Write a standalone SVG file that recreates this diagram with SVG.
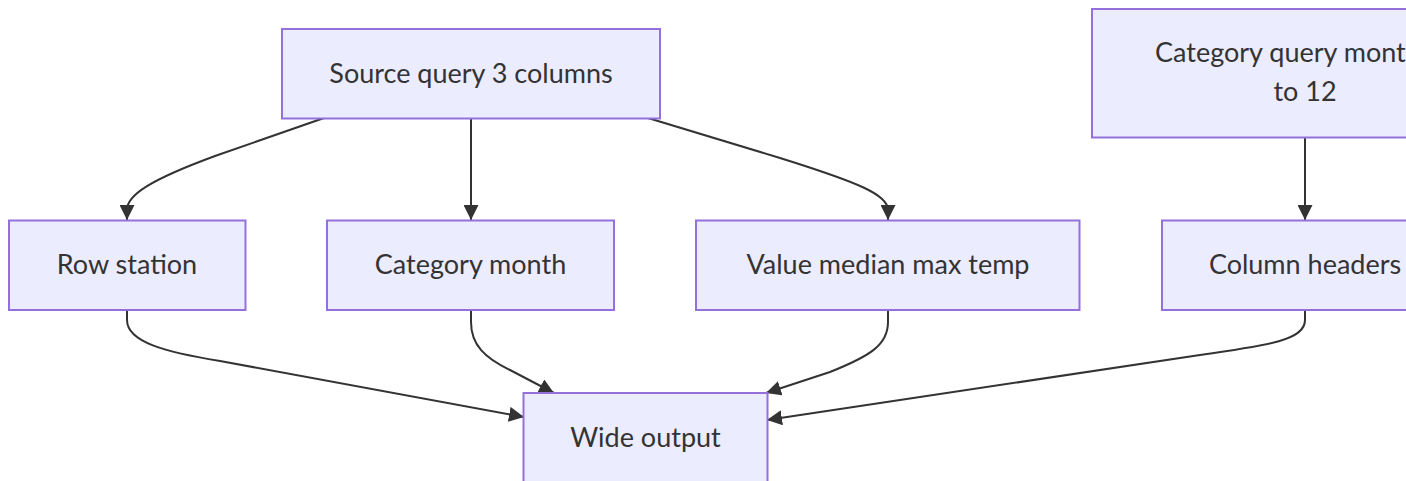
<svg xmlns="http://www.w3.org/2000/svg" width="1406" height="481" viewBox="0 0 1406 481">
  <style>
    .node rect { fill: #ECECFF; stroke: #9370DB; stroke-width: 2; }
    .node text { font-family: Lato, "Open Sans", "DejaVu Sans", sans-serif; font-size: 27px; fill: #333333; text-anchor: middle; }
    .edges path { fill: none; stroke: #333333; stroke-width: 2; }
  </style>
  <defs>
    <marker id="arrow" viewBox="0 0 10 10" refX="10" refY="5" markerUnits="userSpaceOnUse" markerWidth="15" markerHeight="15" orient="auto">
      <path d="M0,0 L10,5 L0,10 z" fill="#333333"/>
    </marker>
  </defs>
  <rect width="1406" height="481" fill="#ffffff"/>

  <g class="edges">
    <path d="M324,118 L215,156 C150,180 127,195 127,210 L127,220" marker-end="url(#arrow)"/>
    <path d="M471,118 L471,220" marker-end="url(#arrow)"/>
    <path d="M648,118 L780,158 C860,183 888,195 888,210 L888,220" marker-end="url(#arrow)"/>
    <path d="M1305,138 L1305,220" marker-end="url(#arrow)"/>
    <path d="M127,310 L127,320 C127,342 165,352 220,361 L524,417" marker-end="url(#arrow)"/>
    <path d="M471,310 L471,322 C471,345 485,358 510,370 L554,393" marker-end="url(#arrow)"/>
    <path d="M888,310 L888,322 C888,345 870,356 830,372 L766,393" marker-end="url(#arrow)"/>
    <path d="M1305,310 L1305,320 C1305,340 1270,345 1200,355 L767,420" marker-end="url(#arrow)"/>
  </g>

  <g id="source" class="node">
    <rect x="282" y="29" width="378" height="89.5"/>
    <text x="471" y="82.5">Source query 3 columns</text>
  </g>
  <g id="categoryQuery" class="node">
    <rect x="1092" y="9" width="428" height="128.5"/>
    <text x="1155" y="62" style="text-anchor:start">Category query month</text>
    <text x="1305" y="101">to 12</text>
  </g>
  <g id="rowStation" class="node">
    <rect x="9" y="220.5" width="236.5" height="89.5"/>
    <text x="127" y="274">Row station</text>
  </g>
  <g id="categoryMonth" class="node">
    <rect x="327" y="220.5" width="287" height="89.5"/>
    <text x="470.5" y="274">Category month</text>
  </g>
  <g id="valueTemp" class="node">
    <rect x="696" y="220.5" width="383.5" height="89.5"/>
    <text x="888" y="274">Value median max temp</text>
  </g>
  <g id="columnHeaders" class="node">
    <rect x="1162" y="220.5" width="286" height="89.5"/>
    <text x="1305" y="274">Column headers</text>
  </g>
  <g id="wideOutput" class="node">
    <rect x="523.5" y="393" width="244" height="90"/>
    <text x="645.5" y="446.5">Wide output</text>
  </g>
</svg>
